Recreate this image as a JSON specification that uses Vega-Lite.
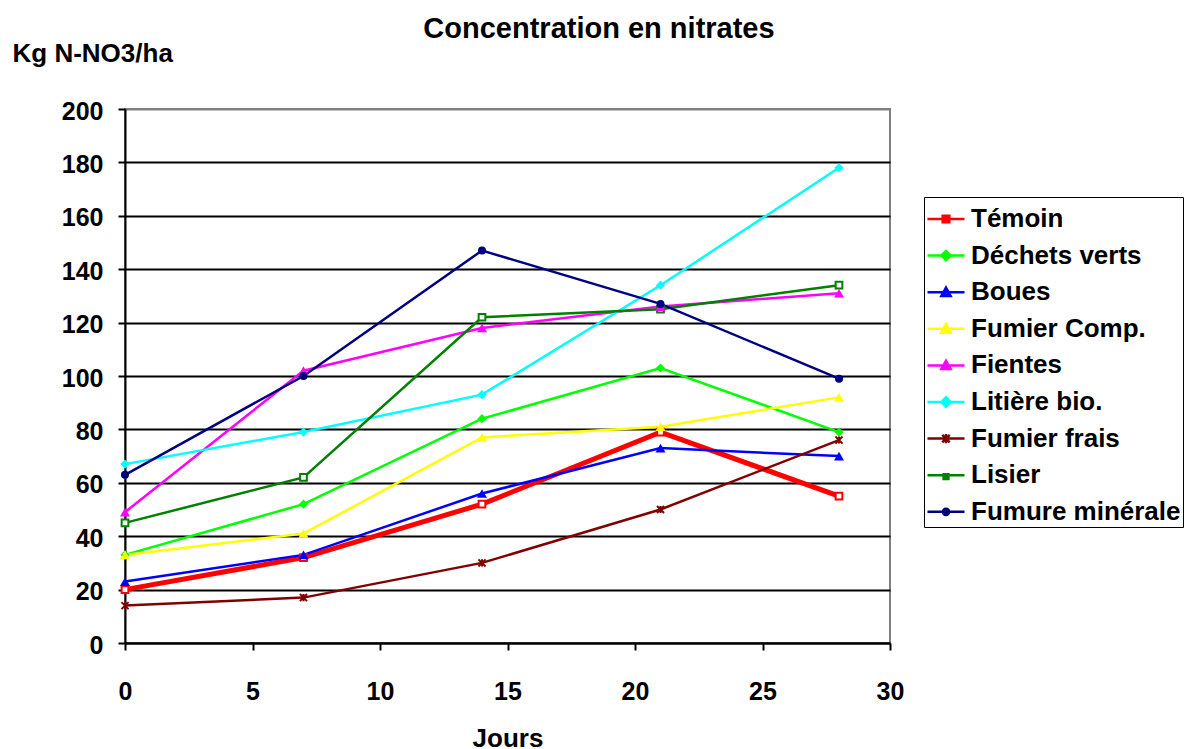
{
  "$schema": "https://vega.github.io/schema/vega-lite/v6.json",
  "autosize": {"type": "none"},
  "width": 765,
  "height": 534,
  "padding": {"left": 125, "top": 109, "right": 296, "bottom": 106},
  "background": "white",
  "title": {"text": "Concentration en nitrates", "fontSize": 29, "fontWeight": "bold", "font": "Liberation Sans", "color": "black", "anchor": "middle", "frame": "group", "dx": 91.5, "offset": 3, "dy": 29, "baseline": "alphabetic"},
  "config": {
    "font": "Liberation Sans",
    "view": {"stroke": "#808080", "strokeWidth": 2},
    "axis": {
      "domainColor": "black", "domainWidth": 2,
      "tickColor": "black", "tickWidth": 2, "tickSize": 7,
      "labelFont": "Liberation Sans", "labelFontSize": 25, "labelFontWeight": "bold", "labelColor": "black",
      "titleFont": "Liberation Sans", "titleFontSize": 26, "titleFontWeight": "bold", "titleColor": "black",
      "labelOverlap": false, "labelFlush": false
    },
    "legend": {"orient": "none", "legendX": 799, "legendY": 88, "strokeColor": "black", "fillColor": "white", "padding": 2,
      "symbolSize": 1369, "rowPadding": 3.6, "labelFont": "Liberation Sans", "labelFontSize": 26, "labelFontWeight": "bold", "labelColor": "black", "labelOffset": 5, "labelLimit": 500, "symbolStrokeWidth": 2.5}
  },
  "data": {"values": [
    {"serie": "Témoin", "jour": 0, "n": 20},
    {"serie": "Témoin", "jour": 7, "n": 32},
    {"serie": "Témoin", "jour": 14, "n": 52},
    {"serie": "Témoin", "jour": 21, "n": 79},
    {"serie": "Témoin", "jour": 28, "n": 55},
    {"serie": "Déchets verts", "jour": 0, "n": 33},
    {"serie": "Déchets verts", "jour": 7, "n": 52},
    {"serie": "Déchets verts", "jour": 14, "n": 84},
    {"serie": "Déchets verts", "jour": 21, "n": 103},
    {"serie": "Déchets verts", "jour": 28, "n": 79},
    {"serie": "Boues", "jour": 0, "n": 23},
    {"serie": "Boues", "jour": 7, "n": 33},
    {"serie": "Boues", "jour": 14, "n": 56},
    {"serie": "Boues", "jour": 21, "n": 73},
    {"serie": "Boues", "jour": 28, "n": 70},
    {"serie": "Fumier Comp.", "jour": 0, "n": 33},
    {"serie": "Fumier Comp.", "jour": 7, "n": 41},
    {"serie": "Fumier Comp.", "jour": 14, "n": 77},
    {"serie": "Fumier Comp.", "jour": 21, "n": 81},
    {"serie": "Fumier Comp.", "jour": 28, "n": 92},
    {"serie": "Fientes", "jour": 0, "n": 49},
    {"serie": "Fientes", "jour": 7, "n": 102},
    {"serie": "Fientes", "jour": 14, "n": 118},
    {"serie": "Fientes", "jour": 21, "n": 126},
    {"serie": "Fientes", "jour": 28, "n": 131},
    {"serie": "Litière bio.", "jour": 0, "n": 67},
    {"serie": "Litière bio.", "jour": 7, "n": 79},
    {"serie": "Litière bio.", "jour": 14, "n": 93},
    {"serie": "Litière bio.", "jour": 21, "n": 134},
    {"serie": "Litière bio.", "jour": 28, "n": 178},
    {"serie": "Fumier frais", "jour": 0, "n": 14},
    {"serie": "Fumier frais", "jour": 7, "n": 17},
    {"serie": "Fumier frais", "jour": 14, "n": 30},
    {"serie": "Fumier frais", "jour": 21, "n": 50},
    {"serie": "Fumier frais", "jour": 28, "n": 76},
    {"serie": "Lisier", "jour": 0, "n": 45},
    {"serie": "Lisier", "jour": 7, "n": 62},
    {"serie": "Lisier", "jour": 14, "n": 122},
    {"serie": "Lisier", "jour": 21, "n": 125},
    {"serie": "Lisier", "jour": 28, "n": 134},
    {"serie": "Fumure minérale", "jour": 0, "n": 63},
    {"serie": "Fumure minérale", "jour": 7, "n": 100},
    {"serie": "Fumure minérale", "jour": 14, "n": 147},
    {"serie": "Fumure minérale", "jour": 21, "n": 127},
    {"serie": "Fumure minérale", "jour": 28, "n": 99}
  ]},
  "encoding": {
    "x": {"field": "jour", "type": "quantitative", "scale": {"domain": [0, 30], "nice": false, "zero": false},
      "axis": {"values": [0, 5, 10, 15, 20, 25, 30], "grid": false, "title": "Jours", "labelPadding": 49, "labelBaseline": "alphabetic", "titleY": 103, "titleBaseline": "alphabetic"}},
    "y": {"field": "n", "type": "quantitative", "scale": {"domain": [0, 200], "nice": false},
      "axis": {"values": [0, 20, 40, 60, 80, 100, 120, 140, 160, 180, 200], "grid": true,
        "gridColor": {"condition": {"test": "datum.value === 200", "value": "#808080"}, "value": "black"}, "gridWidth": 2,
        "title": "Kg N-NO3/ha", "titleAngle": 0, "titleAlign": "left", "titleBaseline": "alphabetic", "titleX": -113, "titleY": -47.5,
        "labelPadding": 15, "labelBaseline": "alphabetic", "labelOffset": 10}}
  },
  "layer": [
    {
      "mark": {"type": "line"},
      "encoding": {
        "color": {"field": "serie", "type": "nominal", "legend": null,
          "scale": {"domain": ["Fumure minérale", "Lisier", "Fumier frais", "Litière bio.", "Fientes", "Fumier Comp.", "Boues", "Déchets verts", "Témoin"],
            "range": ["#000080", "#008000", "#800000", "#00FFFF", "#FF00FF", "#FFFF00", "#0000FF", "#00FF00", "#FF0000"]}},
        "strokeWidth": {"condition": {"test": "datum.serie === 'Témoin'", "value": 5}, "value": 2.5}
      }
    },
    {
      "transform": [{"filter": {"field": "serie", "oneOf": ["Témoin", "Lisier"]}}],
      "mark": {"type": "point", "shape": "square", "filled": false, "fill": "white", "size": 45, "strokeWidth": 2, "opacity": 1},
      "encoding": {"color": {"field": "serie", "type": "nominal", "legend": null}}
    },
    {
      "transform": [{"filter": {"field": "serie", "oneOf": ["Déchets verts", "Litière bio."]}}],
      "mark": {"type": "point", "shape": "diamond", "filled": true, "size": 85, "opacity": 1},
      "encoding": {"color": {"field": "serie", "type": "nominal", "legend": null}}
    },
    {
      "transform": [{"filter": {"field": "serie", "oneOf": ["Boues", "Fumier Comp.", "Fientes"]}}],
      "mark": {"type": "point", "shape": "triangle-up", "filled": true, "size": 100, "opacity": 1},
      "encoding": {"color": {"field": "serie", "type": "nominal", "legend": null}}
    },
    {
      "transform": [{"filter": {"field": "serie", "oneOf": ["Fumier frais"]}}],
      "mark": {"type": "point", "shape": "M-1,-1L1,1M-1,1L1,-1M0,-1V1", "filled": false, "size": 50, "strokeWidth": 2, "opacity": 1},
      "encoding": {"color": {"field": "serie", "type": "nominal", "legend": null}}
    },
    {
      "transform": [{"filter": {"field": "serie", "oneOf": ["Fumure minérale"]}}],
      "mark": {"type": "point", "shape": "circle", "filled": true, "size": 65, "opacity": 1},
      "encoding": {"color": {"field": "serie", "type": "nominal", "legend": null}}
    },
    {
      "transform": [{"filter": "datum.jour < 0"}],
      "mark": {"type": "point", "filled": false, "opacity": 1, "size": 1369, "strokeWidth": 2.5},
      "encoding": {
        "stroke": {"field": "serie", "type": "nominal",
          "legend": {"title": null},
          "scale": {"domain": ["Témoin", "Déchets verts", "Boues", "Fumier Comp.", "Fientes", "Litière bio.", "Fumier frais", "Lisier", "Fumure minérale"],
            "range": ["#FF0000", "#00FF00", "#0000FF", "#FFFF00", "#FF00FF", "#00FFFF", "#800000", "#008000", "#000080"]}},
        "fill": {"field": "serie", "type": "nominal",
          "legend": {"title": null},
          "scale": {"domain": ["Témoin", "Déchets verts", "Boues", "Fumier Comp.", "Fientes", "Litière bio.", "Fumier frais", "Lisier", "Fumure minérale"],
            "range": ["#FF0000", "#00FF00", "#0000FF", "#FFFF00", "#FF00FF", "#00FFFF", "#800000", "#008000", "#000080"]}},
        "shape": {"field": "serie", "type": "nominal",
          "legend": {"title": null},
          "scale": {"domain": ["Témoin", "Déchets verts", "Boues", "Fumier Comp.", "Fientes", "Litière bio.", "Fumier frais", "Lisier", "Fumure minérale"],
            "range": [
              "M-1,0H1M-0.18,-0.18H0.18V0.18H-0.18Z",
              "M-1,0H1M0,-0.25L0.25,0L0,0.25L-0.25,0Z",
              "M-1,0H1M0,-0.25L0.25,0.2H-0.25Z",
              "M-1,0H1M0,-0.25L0.25,0.2H-0.25Z",
              "M-1,0H1M0,-0.25L0.25,0.2H-0.25Z",
              "M-1,0H1M0,-0.25L0.25,0L0,0.25L-0.25,0Z",
              "M-1,0H1M-0.2,-0.2L0.2,0.2M-0.2,0.2L0.2,-0.2M0,-0.25V0.25",
              "M-1,0H1M-0.13,-0.05H0.13V0.2H-0.13Z",
              "M-1,0H1M-0.17,0A0.17,0.17 0 1,0 0.17,0A0.17,0.17 0 1,0 -0.17,0Z"
            ]}}
      }
    }
  ]
}
